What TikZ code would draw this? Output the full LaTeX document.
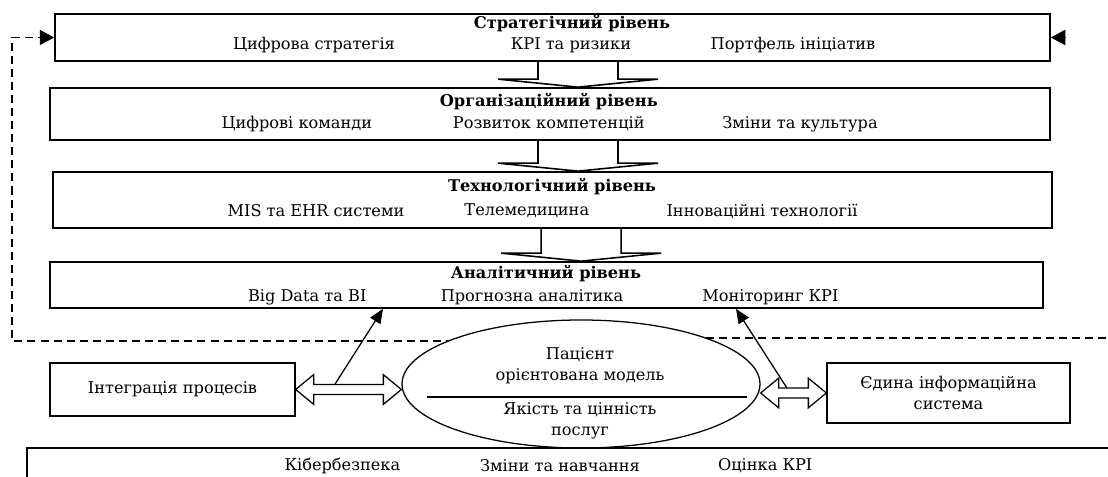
\documentclass[tikz,border=0pt]{standalone}
\usepackage{fontspec}
\setmainfont{DejaVu Serif}
\usetikzlibrary{arrows.meta, calc, shapes.geometric}

\newcommand{\basefont}{\fontsize{11.5}{14.9}\selectfont}

\tikzset{
  level/.style={draw, line width=1.2pt, inner sep=0pt},
  ttl/.style={font=\basefont\bfseries},
  lvlarrow/.style={line width=1.1pt, line join=miter},
  feedback/.style={line width=0.9pt, dash pattern=on 5.7pt off 3.6pt},
  hollow/.style={draw, line width=0.9pt, fill=white, line join=miter},
  link/.style={-{Triangle[length=0.36cm, width=0.3cm]}, line width=0.9pt},
  fbtip/.style={-{Triangle[length=0.36cm, width=0.38cm]}},
}

% broad arrow from one level down to the next, centred at x = #3
\newcommand{\levelarrow}[3]{%
  \draw[lvlarrow] ($(#3,0 |- #1.south)+(-1,0)$) -- ($(#3,0 |- #2.north)+(-1,0.2)$)
    -- ++(-1,0) -- (#3,0 |- #2.north) -- ++(2,0.2) -- ++(-1,0)
    -- ($(#3,0 |- #1.south)+(1,0)$);
}
% hollow two-headed arrow between two points on one height
\newcommand{\hollowarrow}[2]{%
  \draw[hollow] (#1) -- ++(0.45,0.37) -- ++(0,-0.245) -- ($(#2)+(-0.45,0.125)$)
    -- ++(0,0.245) -- (#2) -- ++(-0.45,-0.37) -- ++(0,0.245)
    -- ($(#1)+(0.45,-0.125)$) -- ++(0,-0.245) -- cycle;
}

\begin{document}
\begin{tikzpicture}[font=\basefont]
  \useasboundingbox (0,0) rectangle (27.7,11.925);
  \clip (0,0) rectangle (27.7,11.925);

  % --- Levels ---
  \node[level, minimum width=24.875cm, minimum height=1.175cm] (s1) at (13.8125, 10.9875) {};
  \node[ttl] (s1t) at (14.3, 11.325) {Стратегічний рівень};
  \node (s1a) at (7.85, 10.8) {Цифрова стратегія};
  \node (s1b) at (14.275, 10.8) {КРІ та ризики};
  \node (s1c) at (19.825, 10.8) {Портфель ініціатив};

  \node[level, minimum width=25cm, minimum height=1.3cm] (s2) at (13.75, 9.075) {};
  \node[ttl] (s2t) at (13.72, 9.375) {Організаційний рівень};
  \node (s2a) at (7.42, 8.825) {Цифрові команди};
  \node (s2b) at (13.72, 8.825) {Розвиток компетенцій};
  \node (s2c) at (20.0, 8.825) {Зміни та культура};

  \node[level, minimum width=24.975cm, minimum height=1.4cm] (s3) at (13.8125, 6.925) {};
  \node[ttl] (s3t) at (13.8, 7.25) {Технологічний рівень};
  \node (s3a) at (7.9, 6.65) {MIS та EHR системи};
  \node (s3b) at (13.17, 6.65) {Телемедицина};
  \node (s3c) at (19.05, 6.65) {Інноваційні технології};

  \node[level, minimum width=24.825cm, minimum height=1.15cm] (s4) at (13.6625, 4.8) {};
  \node[ttl] (s4t) at (13.65, 5.075) {Аналітичний рівень};
  \node (s4a) at (7.68, 4.5) {Big Data та BI};
  \node (s4b) at (13.3, 4.5) {Прогнозна аналітика};
  \node (s4c) at (19.26, 4.5) {Моніторинг КРІ};

  \levelarrow{s1}{s2}{14.45}
  \levelarrow{s2}{s3}{14.45}
  \levelarrow{s3}{s4}{14.53}

  % --- Feedback loop ---
  \coordinate (fbL) at (12, 3.4);
  \coordinate (fbR) at (17, 3.475);
  \coordinate (fbT) at ($(s1.east)+(0.36,0)$);
  \draw[feedback, fbtip] (fbL) -- (0.3, 3.4) |- (s1.west);
  \draw[feedback] (fbR) -- (28, 3.475);
  \draw[fbtip, line width=0.9pt] (fbT) -- (s1.east);

  % --- Core model ---
  \node[ellipse, draw, line width=0.9pt, fill=white, inner sep=0pt,
        minimum width=8.95cm, minimum height=3.2cm] (ell) at (14.525, 2.325) {};
  \node[align=center] (ellt) at (14.5, 2.79) {Пацієнт\\орієнтована модель};
  \node[align=center] (ellb) at (14.5, 1.4) {Якість та цінність\\послуг};
  \draw[line width=0.9pt] (10.675, 2.0) -- (18.675, 2.0);

  \node[level, line width=0.9pt, minimum width=6.125cm, minimum height=1.325cm] (lbox) at (4.3125, 2.1875) {Інтеграція процесів};
  \node[level, line width=0.9pt, align=center, minimum width=6.075cm, minimum height=1.5cm] (rbox) at (23.7125, 2.1) {Єдина інформаційна\\система};

  \hollowarrow{lbox.east}{lbox.east -| ell.west}
  \hollowarrow{ell.east |- rbox.west}{rbox.west}

  \coordinate (l1) at ($(lbox.east)!0.37!(lbox.east -| ell.west)+(0,0.125)$);
  \coordinate (r1) at ($(ell.east |- rbox.west)!0.4!(rbox.west)+(0,0.125)$);
  \draw[link] (l1) -- (9.575,0 |- s4.south);
  \draw[link] (r1) -- (18.4,0 |- s4.south);

  % --- Base ---
  \draw[level] (0.675, -1) |- (28, 0.725);
  \node (b1) at (8.56, 0.275) {Кібербезпека};
  \node (b2) at (14.0, 0.275) {Зміни та навчання};
  \node (b3) at (19.13, 0.275) {Оцінка КРІ};
\end{tikzpicture}
\end{document}
